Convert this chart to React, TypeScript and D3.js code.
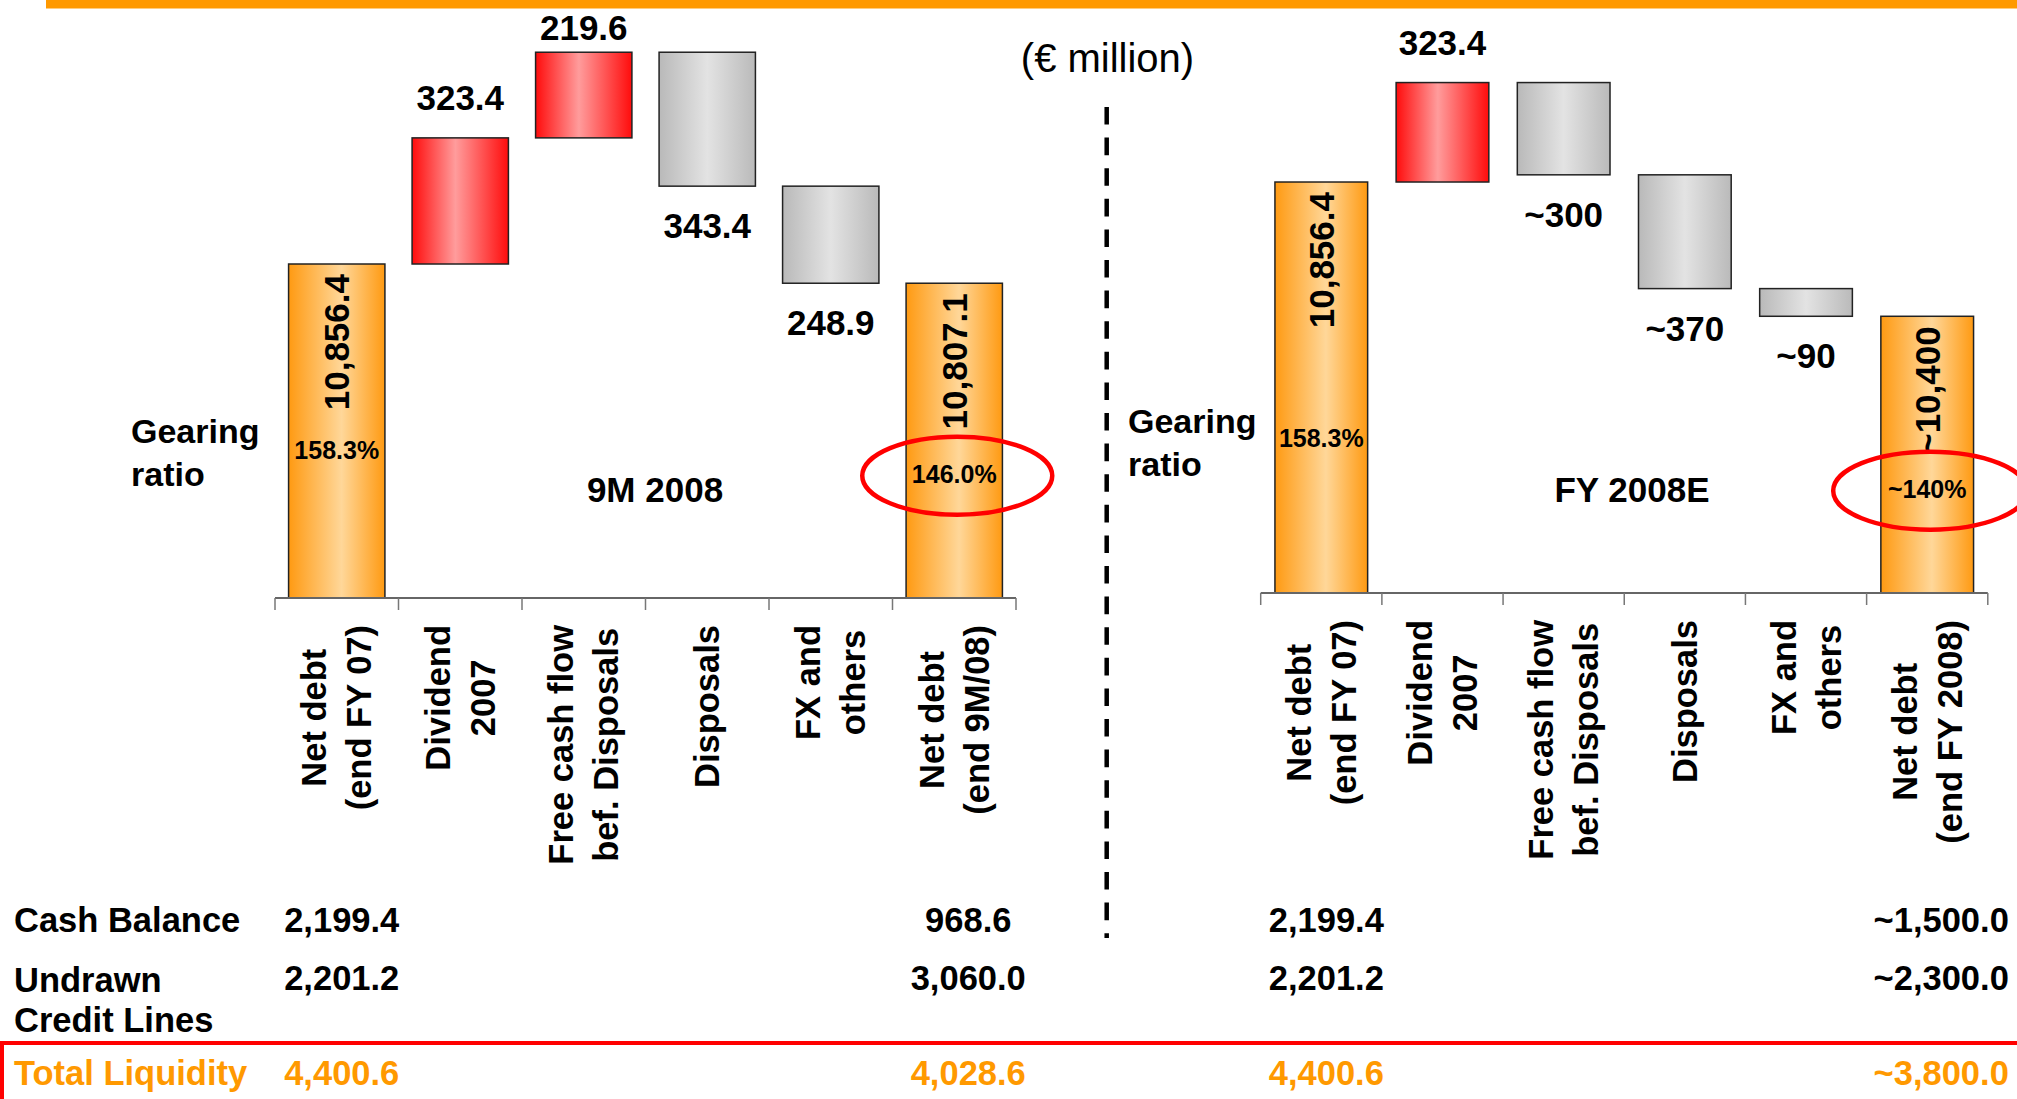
import React, { useEffect, useRef } from 'react'
import * as d3 from 'd3'

const W = 2017, H = 1099
const FONT = '"Liberation Sans", Arial, Helvetica, sans-serif'
const ORANGE = '#ff9900'

// ---- 9M 2008 bridge
const leftCategories = [['Net debt', '(end FY 07)'], ['Dividend', '2007'], ['Free cash flow', 'bef. Disposals'], ['Disposals'], ['FX and', 'others'], ['Net debt', '(end 9M/08)']]
const leftKinds = ['total', 'up', 'up', 'down', 'down', 'total']
const leftValues = [10856.4, 323.4, 219.6, 343.4, 248.9, 10807.1]
const leftLabels = ['10,856.4', '323.4', '219.6', '343.4', '248.9', '10,807.1']
const leftGearing = ['158.3%', '146.0%']
const leftCash = ['2,199.4', '968.6']
const leftUndrawn = ['2,201.2', '3,060.0']
const leftLiquidity = ['4,400.6', '4,028.6']

// ---- FY 2008E bridge
const rightCategories = [['Net debt', '(end FY 07)'], ['Dividend', '2007'], ['Free cash flow', 'bef. Disposals'], ['Disposals'], ['FX and', 'others'], ['Net debt', '(end FY 2008)']]
const rightKinds = ['total', 'up', 'down', 'down', 'down', 'total']
const rightValues = [10856.4, 323.4, 300, 370, 90, 10400]
const rightLabels = ['10,856.4', '323.4', '~300', '~370', '~90', '~10,400']
const rightGearing = ['158.3%', '~140%']
const rightCash = ['2,199.4', '~1,500.0']
const rightUndrawn = ['2,201.2', '~2,300.0']
const rightLiquidity = ['4,400.6', '~3,800.0']

const rowLabels = [['Cash Balance'], ['Undrawn', 'Credit Lines'], ['Total Liquidity']]

const panels = [
  { cats: leftCategories, kinds: leftKinds, values: leftValues, labels: leftLabels, gearing: leftGearing,
    cash: leftCash, undrawn: leftUndrawn, liquidity: leftLiquidity, title: '9M 2008',
    x0: 275, x1: 1016, base: 598, top: 52, domain: [10000, 11400], padInner: 0.22,
    gearX: 131, gearY: 443, rateY: [458.7, 482.7], titleX: 655, ellRx: 95 },
  { cats: rightCategories, kinds: rightKinds, values: rightValues, labels: rightLabels, gearing: rightGearing,
    cash: rightCash, undrawn: rightUndrawn, liquidity: rightLiquidity, title: 'FY 2008E',
    x0: 1260.7, x1: 1987.8, base: 593, top: 82.5, domain: [9520, 11180], padInner: 0.235,
    gearX: 1128, gearY: 433, rateY: [446.8, 497.7], titleX: 1632, ellRx: 97 },
]

export default function App() {
  const svgRef = useRef<SVGSVGElement>(null)

  useEffect(() => {
    const svg = d3.select(svgRef.current)
    svg.selectAll('*').remove()

    const defs = svg.append('defs')
    const grad = (id: string, stops: [number, string][]) => {
      const g = defs.append('linearGradient').attr('id', id).attr('x1', 0).attr('x2', 1).attr('y1', 0).attr('y2', 0)
      stops.forEach(([o, c]) => g.append('stop').attr('offset', o).attr('stop-color', c))
    }
    grad('gOrange', [[0, '#ff9a12'], [0.55, '#ffd799'], [1, '#ff9a12']])
    grad('gRed', [[0, '#ff0c0c'], [0.45, '#ff9c9c'], [1, '#ff0c0c']])
    grad('gGray', [[0, '#b9b9b9'], [0.5, '#e3e3e3'], [1, '#bababa']])
    const fills: Record<string, string> = { total: 'url(#gOrange)', up: 'url(#gRed)', down: 'url(#gGray)' }

    // top orange rule
    svg.append('rect').attr('x', 46).attr('y', 0).attr('width', W - 46).attr('height', 8.5).attr('fill', ORANGE)

    svg.append('text').attr('x', 1107.5).attr('y', 71.7).attr('text-anchor', 'middle')
      .attr('font-size', 40).attr('font-family', FONT).text('(€ million)')

    // divider
    svg.append('line').attr('x1', 1106.7).attr('x2', 1106.7).attr('y1', 107).attr('y2', 938)
      .attr('stroke', '#000').attr('stroke-width', 4.5).attr('stroke-dasharray', '17.6 13')

    const txt = (x: number, y: number, s: string, size = 34.5, weight = 'bold', anchor = 'start', fill = '#000') =>
      svg.append('text').attr('x', x).attr('y', y).attr('font-size', size).attr('font-weight', weight)
        .attr('font-family', FONT).attr('text-anchor', anchor).attr('fill', fill).text(s)

    // row labels of the table
    const rowY = [931.7, 991.7, 1084.5]
    rowLabels.forEach((lines, r) => lines.forEach((l, j) =>
      txt(14, rowY[r] + j * 40, l, 34.5, 'bold', 'start', r === 2 ? ORANGE : '#000')))

    panels.forEach(p => {
      const x = d3.scaleBand<number>().domain(d3.range(p.cats.length)).range([p.x0, p.x1])
        .paddingInner(p.padInner).paddingOuter(p.padInner / 2)
      const y = d3.scaleLinear().domain(p.domain).range([p.base, p.top])
      const step = x.step(), bw = x.bandwidth()

      // waterfall geometry
      let run = 0
      const bars = p.values.map((v, i) => {
        const k = p.kinds[i]
        let lo: number, hi: number
        if (k === 'total') { if (i === 0) run = v; lo = p.domain[0]; hi = run }
        else if (k === 'up') { lo = run; hi = run + v; run = hi }
        else { hi = run; lo = run - v; run = lo }
        return { i, k, lo, hi, label: p.labels[i] }
      })

      const g = svg.append('g')
      g.selectAll('rect.bar').data(bars).join('rect').attr('class', 'bar')
        .attr('x', d => x(d.i)!).attr('width', bw)
        .attr('y', d => y(d.hi)).attr('height', d => y(d.lo) - y(d.hi))
        .attr('fill', d => fills[d.k]).attr('stroke', '#222').attr('stroke-width', 1.5)

      // axis
      g.append('line').attr('x1', p.x0).attr('x2', p.x1).attr('y1', p.base).attr('y2', p.base)
        .attr('stroke', '#666').attr('stroke-width', 2)
      d3.range(p.cats.length + 1).forEach(i => {
        const tx = p.x0 + i * step
        g.append('line').attr('x1', tx).attr('x2', tx).attr('y1', p.base).attr('y2', p.base + 12)
          .attr('stroke', '#777').attr('stroke-width', 1.5)
      })

      // value labels
      bars.forEach(d => {
        const cx = x(d.i)! + bw / 2
        if (d.k === 'total') {
          svg.append('text').attr('transform', `translate(${cx + 12.5},${y(d.hi) + 10}) rotate(-90)`)
            .attr('text-anchor', 'end').attr('font-size', 35).attr('font-weight', 'bold')
            .attr('font-family', FONT).text(d.label)
        } else if (d.k === 'up') {
          txt(cx, Math.max(40, y(d.hi) - 28), d.label, 35, 'bold', 'middle')
        } else {
          txt(cx, y(d.lo) + 52, d.label, 35, 'bold', 'middle')
        }
      })

      // category labels (rotated, centred lines, block hanging under the axis)
      const labelTop = p.base + 27
      p.cats.forEach((lines, i) => {
        const cx = p.x0 + (i + 0.5) * step
        const nodes = lines.map(l => svg.append('text').attr('font-size', 34.5).attr('font-weight', 'bold')
          .attr('font-family', FONT).attr('text-anchor', 'middle').text(l))
        const maxLen = d3.max(nodes, n => (n.node() as SVGTextElement).getComputedTextLength()) || 0
        const cy = labelTop + maxLen / 2
        nodes.forEach((n, j) => {
          const off = (j - (lines.length - 1) / 2) * 45 + 12
          n.attr('transform', `translate(${cx + off},${cy}) rotate(-90)`)
        })
      })

      // gearing ratio
      txt(p.gearX, p.gearY, 'Gearing', 34)
      txt(p.gearX, p.gearY + 43, 'ratio', 34)
      const ends = [0, p.cats.length - 1]
      ends.forEach((bi, j) => {
        const cx = x(bi)! + bw / 2
        txt(cx, p.rateY[j], p.gearing[j], 25, 'bold', 'middle')
      })
      const lastCx = x(p.cats.length - 1)! + bw / 2
      svg.append('ellipse').attr('cx', lastCx + 3).attr('cy', p.rateY[1] - 7).attr('rx', p.ellRx).attr('ry', 39)
        .attr('fill', 'none').attr('stroke', '#ff0000').attr('stroke-width', 4.5)

      txt(p.titleX, 502, p.title, 35, 'bold', 'middle')

      // liquidity table
      const colShift = [5, 14]
      const cols = [[p.cash, 931.7, '#000'], [p.undrawn, 990, '#000'], [p.liquidity, 1084.5, ORANGE]] as const
      cols.forEach(([vals, yy, col]) => {
        ends.forEach((bi, j) => txt(x(bi)! + bw / 2 + colShift[j], yy, vals[j], 34.5, 'bold', 'middle', col))
      })
    })

    // red frame around total liquidity
    svg.append('rect').attr('x', 2).attr('y', 1043).attr('width', W + 10).attr('height', 120)
      .attr('fill', 'none').attr('stroke', '#ff0000').attr('stroke-width', 4)
  }, [])

  return (
    <div style={{ position: 'absolute', left: 0, top: 0 }}>
      <svg ref={svgRef} width={W} height={H} style={{ display: 'block', background: '#fff' }} />
    </div>
  )
}
